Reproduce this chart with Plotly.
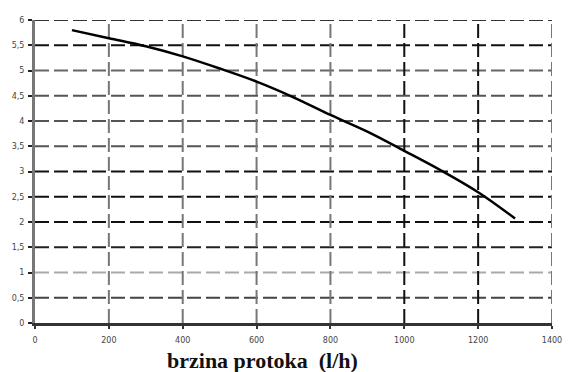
import plotly.graph_objects as go

# Flow-rate curve: pressure/head vs. flow (l/h)
flow = [100, 200, 300, 400, 500, 600, 700, 800, 900, 1000, 1100, 1200, 1300]
head = [5.8, 5.64, 5.48, 5.28, 5.04, 4.78, 4.47, 4.12, 3.79, 3.41, 3.02, 2.59, 2.07]

x_ticks = [0, 200, 400, 600, 800, 1000, 1200, 1400]
x_labels = ["0", "200", "400", "600", "800", "1000", "1200", "1400"]
y_ticks = [0, 0.5, 1, 1.5, 2, 2.5, 3, 3.5, 4, 4.5, 5, 5.5, 6]
y_labels = ["0", "0,5", "1", "1,5", "2", "2,5", "3", "3,5", "4", "4,5", "5", "5,5", "6"]

# grid line shades
h_grid_colors = {0.5: "#444", 1: "#aaa", 1.5: "#222", 2: "#111", 2.5: "#111", 3: "#111",
                 3.5: "#555", 4: "#555", 4.5: "#555", 5: "#666", 5.5: "#111", 6: "#333"}
v_grid_colors = {200: "#777", 400: "#777", 600: "#777", 800: "#777",
                 1000: "#111", 1200: "#111", 1400: "#777"}

fig = go.Figure()
fig.add_trace(go.Scatter(x=flow, y=head, mode="lines", line_shape="spline",
                         line=dict(color="#000", width=2.5), showlegend=False))

shapes = []
for yv in y_ticks[1:]:
    shapes.append(dict(type="line", xref="x", yref="y", x0=0, x1=1400, y0=yv, y1=yv,
                       line=dict(color=h_grid_colors[yv], width=2, dash="14px,5px"),
                       layer="below"))
for xv in x_ticks[1:]:
    shapes.append(dict(type="line", xref="x", yref="y", x0=xv, x1=xv, y0=0, y1=6,
                       line=dict(color=v_grid_colors[xv], width=2, dash="14px,5px"),
                       layer="below"))

tick_font = dict(family="DejaVu Sans, sans-serif", size=8, color="#444")

fig.update_layout(
    width=574, height=372,
    margin=dict(l=35, r=13, t=20, b=49),
    paper_bgcolor="white", plot_bgcolor="white",
    shapes=shapes,
    xaxis=dict(range=[0, 1400], tickvals=x_ticks, ticktext=x_labels,
               showgrid=False, zeroline=False,
               showline=True, linecolor="#333", linewidth=3,
               ticks="outside", ticklen=3, tickcolor="#333", tickwidth=2,
               ticklabelstandoff=4, tickfont=tick_font),
    yaxis=dict(range=[0, 6], tickvals=y_ticks, ticktext=y_labels,
               showgrid=False, zeroline=False,
               showline=True, linecolor="#777", linewidth=3,
               ticks="outside", ticklen=4, tickcolor="#222", tickwidth=2,
               ticklabelstandoff=2, tickfont=tick_font),
    annotations=[dict(text="<b>brzina protoka  (l/h)</b>", xref="paper", yref="paper",
                      x=0.44, y=-0.125, xanchor="center", yanchor="middle", showarrow=False,
                      font=dict(family="Liberation Serif, Times New Roman, serif",
                                size=22, color="#111"))],
)

fig.write_html("out.html")
